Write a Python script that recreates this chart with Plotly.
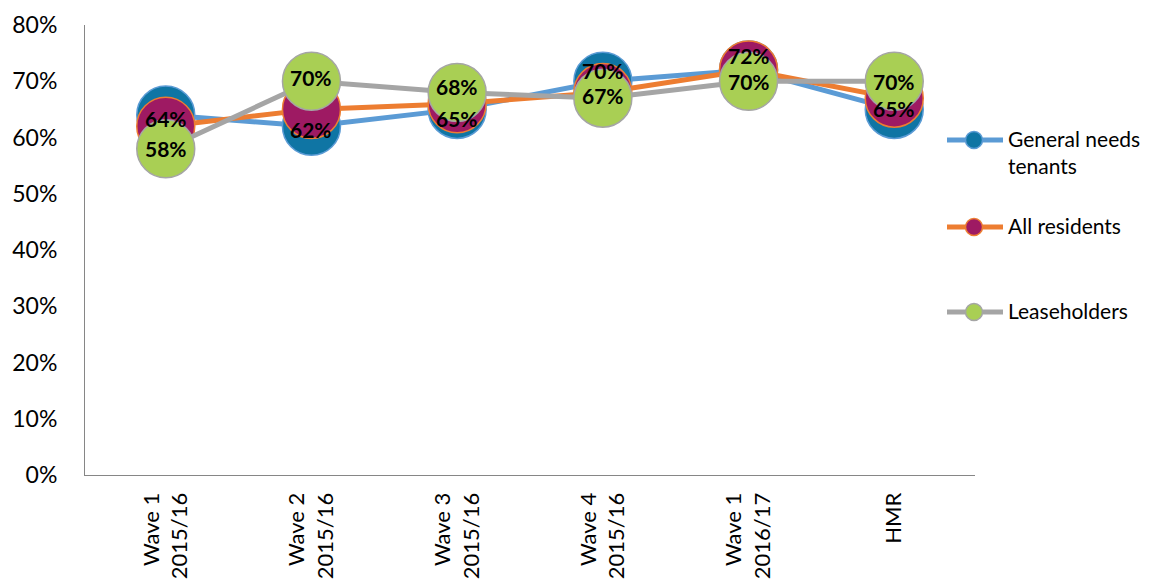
import plotly.graph_objects as go

# Survey waves shown along the x axis
categories = ["Wave 1<br>2015/16", "Wave 2<br>2015/16", "Wave 3<br>2015/16",
              "Wave 4<br>2015/16", "Wave 1<br>2016/17", "HMR"]

# Satisfaction shares per resident group
general_needs = [0.64, 0.62, 0.65, 0.70, 0.72, 0.65]
all_residents = [0.62, 0.65, 0.66, 0.68, 0.72, 0.67]
leaseholders = [0.58, 0.70, 0.68, 0.67, 0.70, 0.70]

series_names = ["General needs<br>tenants", "All residents", "Leaseholders"]
y_ticks = [0, 0.1, 0.2, 0.3, 0.4, 0.5, 0.6, 0.7, 0.8]

FONT = "Lato, Carlito, Calibri, sans-serif"
styles = [
    dict(line="#5B9BD5", fill="#0F75A4", edge="#5B9BD5"),
    dict(line="#ED7D31", fill="#9E1A63", edge="#ED7D31"),
    dict(line="#A5A5A5", fill="#A9CF54", edge="#A5A5A5"),
]

fig = go.Figure()
for vals, st in zip([general_needs, all_residents, leaseholders], styles):
    fig.add_trace(go.Scatter(
        x=categories, y=vals, mode="lines+markers",
        line=dict(color=st["line"], width=5),
        marker=dict(size=58, color=st["fill"], line=dict(color=st["edge"], width=1.5)),
        showlegend=False, hoverinfo="skip", cliponaxis=False,
    ))

# Value labels drawn above all markers (nudged where they would collide)
gn_shift = [-3, -3, -9, 11, 15, 1]
lh_shift = [0, 4, 6, 3, 0, 0]
for cat, v, s in zip(categories, general_needs, gn_shift):
    fig.add_annotation(x=cat, y=v, text=f"<b>{round(v*100)}%</b>", showarrow=False,
                       yshift=s, font=dict(family=FONT, size=21, color="black"))
for cat, v, s in zip(categories, leaseholders, lh_shift):
    fig.add_annotation(x=cat, y=v, text=f"<b>{round(v*100)}%</b>", showarrow=False,
                       yshift=s, font=dict(family=FONT, size=21, color="black"))

# Legend built from shapes and text to the right of the plot
left, width, top, height = 85, 890, 25, 450
def px_x(p):
    return (p - left) / width
def px_y(p):
    return (top + height - p) / height

legend_rows = [140, 227, 312]
for name, st, row in zip(series_names, styles, legend_rows):
    fig.add_shape(type="line", xref="paper", yref="paper",
                  x0=px_x(947), x1=px_x(1003), y0=px_y(row), y1=px_y(row),
                  line=dict(color=st["line"], width=5))
    fig.add_shape(type="circle", xref="paper", yref="paper",
                  xsizemode="pixel", ysizemode="pixel",
                  xanchor=px_x(974), yanchor=px_y(row),
                  x0=-8.5, x1=8.5, y0=-8.5, y1=8.5,
                  fillcolor=st["fill"], line=dict(color=st["edge"], width=1.5))
    fig.add_annotation(xref="paper", yref="paper", x=px_x(1006), y=px_y(row),
                       text=name, showarrow=False, xanchor="left", yanchor="top",
                       yshift=16, align="left",
                       font=dict(family=FONT, size=21, color="black"))

fig.update_layout(
    width=1166, height=583,
    margin=dict(l=left, r=1166 - left - width, t=top, b=583 - top - height),
    paper_bgcolor="white", plot_bgcolor="white",
    font=dict(family=FONT, size=21, color="black"),
    showlegend=False,
)
fig.update_xaxes(
    type="category", showline=True, linecolor="#868686", linewidth=1,
    showgrid=False, tickangle=-90, ticks="outside", ticklen=8,
    tickcolor="rgba(0,0,0,0)", tickfont=dict(family=FONT, size=22),
    automargin=False,
)
fig.update_yaxes(
    range=[0, 0.8], tickvals=y_ticks, tickformat=".0%",
    showline=True, linecolor="#868686", linewidth=1, showgrid=False,
    zeroline=False, ticks="outside", ticklen=22, tickcolor="rgba(0,0,0,0)",
    tickfont=dict(family=FONT, size=23), automargin=False,
)

fig.write_html("out.html")
